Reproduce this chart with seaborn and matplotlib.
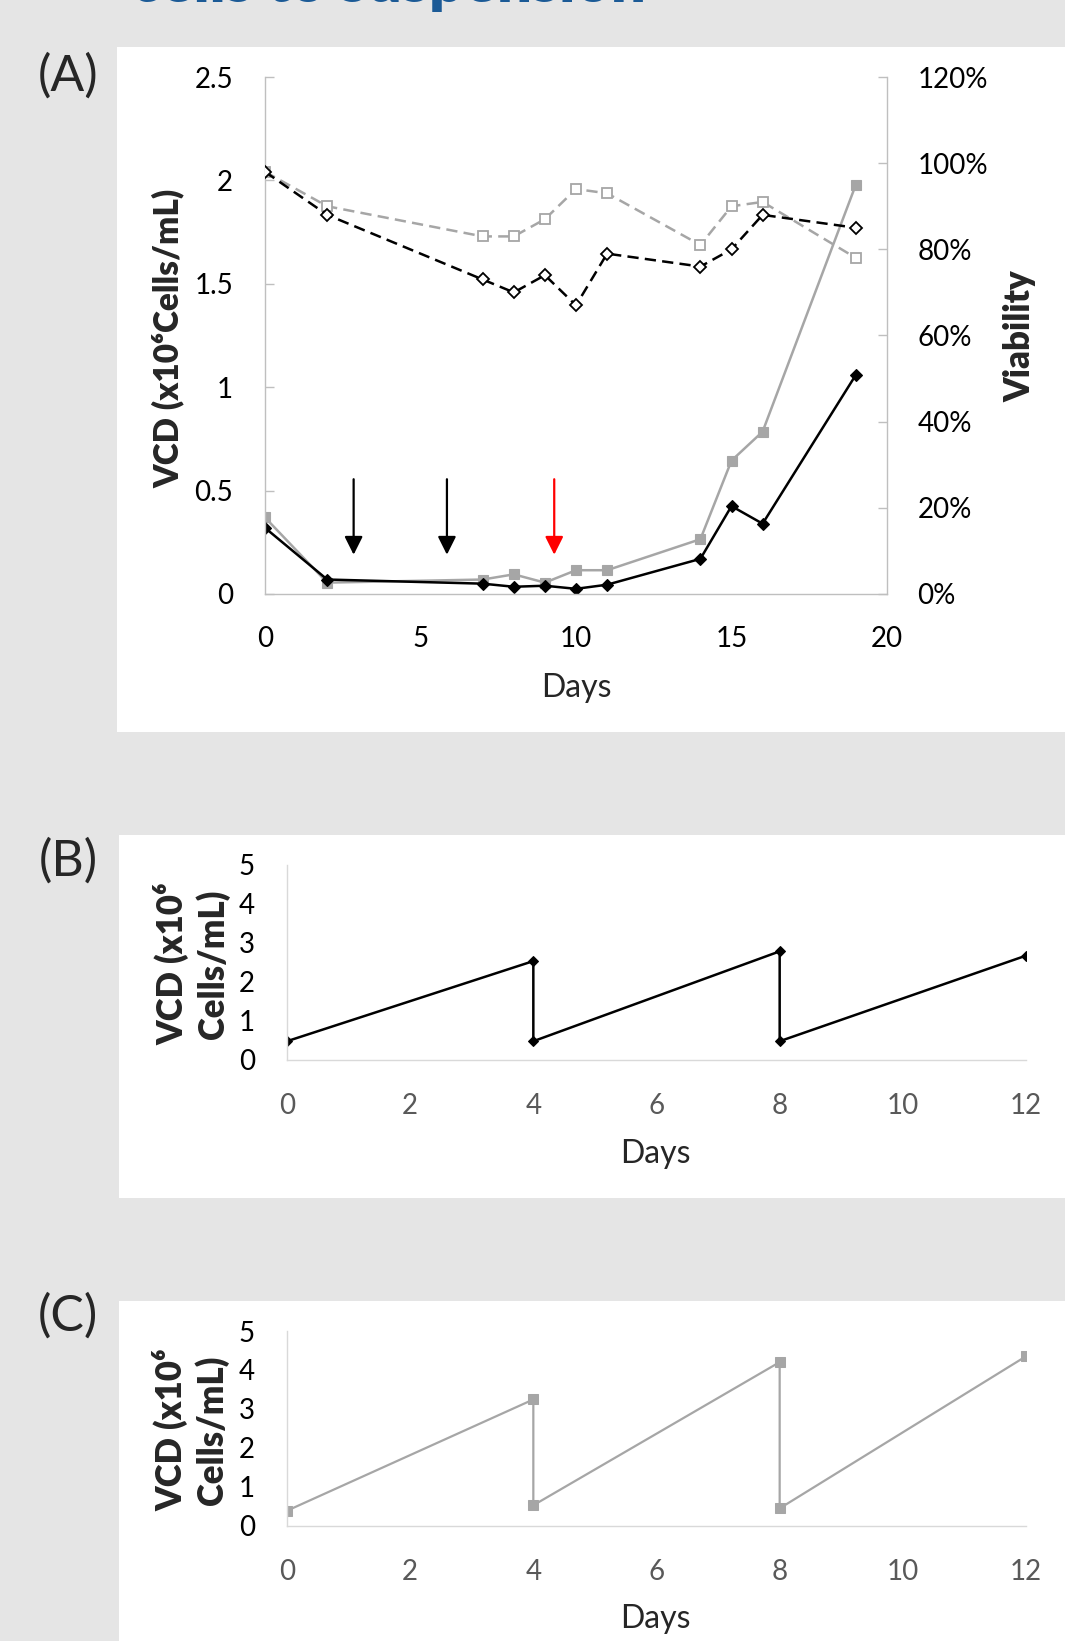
import matplotlib
matplotlib.use("Agg")
import matplotlib.pyplot as plt
import seaborn as sns
from matplotlib.patches import Rectangle
from matplotlib.ticker import FixedLocator

# ---------------- data ----------------
days_a = [0, 2, 7, 8, 9, 10, 11, 14, 15, 16, 19]
vcd_gray_a = [0.37, 0.055, 0.07, 0.095, 0.055, 0.115, 0.115, 0.265, 0.645, 0.785, 1.98]
vcd_black_a = [0.32, 0.07, 0.05, 0.035, 0.04, 0.025, 0.045, 0.17, 0.425, 0.34, 1.06]
via_gray_a = [0.98, 0.90, 0.83, 0.83, 0.87, 0.94, 0.93, 0.81, 0.90, 0.91, 0.78]
via_black_a = [0.98, 0.88, 0.73, 0.70, 0.74, 0.67, 0.79, 0.76, 0.80, 0.88, 0.85]
arrow_days = [2.85, 5.85, 9.3]
arrow_colors = ["black", "black", "red"]
arrow_top, arrow_tip = 0.555, 0.19

days_b = [0, 4, 4, 8, 8, 12]
vcd_b = [0.47, 2.53, 0.47, 2.78, 0.47, 2.67]

days_c = [0, 4, 4, 8, 8, 12]
vcd_c = [0.38, 3.24, 0.52, 4.20, 0.44, 4.35]

xticks_a = [0, 5, 10, 15, 20]
yticks_a = [0, 0.5, 1, 1.5, 2, 2.5]
yticklabels_a = ["0", "0.5", "1", "1.5", "2", "2.5"]
vticks_a = [0, 0.2, 0.4, 0.6, 0.8, 1.0, 1.2]
vticklabels_a = ["0%", "20%", "40%", "60%", "80%", "100%", "120%"]
xticks_bc = [0, 2, 4, 6, 8, 10, 12]
yticks_bc = [0, 1, 2, 3, 4, 5]

# ---------------- style ----------------
sns.set_style("white")
plt.rcParams["font.family"] = ["Lato", "DejaVu Sans"]

GRAY = "#a6a6a6"
SPINE_A = "#bfbfbf"
SPINE_BC = "#d9d9d9"
BG = "#e5e5e5"

W, H = 1065, 1641
fig = plt.figure(figsize=(W / 100, H / 100), dpi=100, facecolor=BG)


def fy(y):
    return 1 - y / H


def axes_px(l, t, r, b):
    return fig.add_axes([l / W, 1 - b / H, (r - l) / W, (b - t) / H])


# white panels
for (l, t, r, b) in [(117, 47, 1065, 732), (119, 835, 1065, 1198), (119, 1301, 1065, 1641)]:
    fig.add_artist(Rectangle((l / W, 1 - b / H), (r - l) / W, (b - t) / H,
                             transform=fig.transFigure, facecolor="white",
                             edgecolor="none", zorder=-5))

# title (cropped at top, as in the source image)
fig.text(131 / W, fy(2.0), "cells to suspension", ha="left", va="baseline",
         fontsize=44, fontweight="heavy", color="#1b5a96")

# ---------------- panel A ----------------
axA = axes_px(265, 77, 887, 594)
sns.lineplot(x=days_a, y=vcd_gray_a, ax=axA, color=GRAY, linewidth=1.8,
             marker="s", markersize=6.5, markerfacecolor=GRAY,
             markeredgecolor=GRAY, markeredgewidth=0.8,
             estimator=None, sort=False)
sns.lineplot(x=days_a, y=vcd_black_a, ax=axA, color="black", linewidth=1.8,
             marker="D", markersize=6.5, markerfacecolor="black",
             markeredgecolor="black", markeredgewidth=0.8,
             estimator=None, sort=False)
axA.set_xlim(0, 20)
axA.set_ylim(0, 2.5)
axA.xaxis.set_major_locator(FixedLocator(xticks_a))
axA.set_yticks(yticks_a)
axA.set_yticklabels(yticklabels_a)
axA.set_xlabel("")
axA.set_ylabel("")
for s in ["top", "right"]:
    axA.spines[s].set_visible(False)
for s in ["left", "bottom"]:
    axA.spines[s].set_color(SPINE_A)
    axA.spines[s].set_linewidth(1.0)
axA.tick_params(axis="x", direction="in", length=6.5, width=1, color=SPINE_A,
                labelsize=20, labelcolor="black", pad=23)
axA.tick_params(axis="y", direction="in", length=6.5, width=1, color=SPINE_A,
                labelsize=20, labelcolor="black", pad=23)

for d, c in zip(arrow_days, arrow_colors):
    axA.annotate("", xy=(d, arrow_tip), xytext=(d, arrow_top),
                 arrowprops=dict(arrowstyle="-|>,head_length=1.0,head_width=0.5",
                                 mutation_scale=11, color=c, lw=1.6,
                                 shrinkA=0, shrinkB=0))

axA2 = axA.twinx()
sns.lineplot(x=days_a, y=via_gray_a, ax=axA2, color=GRAY, linewidth=1.8,
             linestyle=(0, (4.5, 2.5)), marker="s", markersize=7,
             markerfacecolor="white", markeredgecolor=GRAY, markeredgewidth=1.3,
             estimator=None, sort=False)
sns.lineplot(x=days_a, y=via_black_a, ax=axA2, color="black", linewidth=1.8,
             linestyle=(0, (4.5, 2.5)), marker="D", markersize=6.5,
             markerfacecolor="white", markeredgecolor="black", markeredgewidth=1.3,
             estimator=None, sort=False)
axA2.set_ylim(0, 1.2)
axA2.set_yticks(vticks_a)
axA2.set_yticklabels(vticklabels_a)
axA2.set_ylabel("")
for s in ["top", "left", "bottom"]:
    axA2.spines[s].set_visible(False)
axA2.spines["right"].set_color(SPINE_A)
axA2.spines["right"].set_linewidth(1.0)
axA2.tick_params(axis="y", direction="in", length=6.5, width=1, color=SPINE_A,
                 labelsize=20, labelcolor="black", pad=22)

fig.text(168 / W, fy(338), "VCD (x10⁶Cells/mL)", rotation=90, ha="center",
         va="center", fontsize=24, fontweight="heavy")
fig.text(1020 / W, fy(336), "Viability", rotation=90, ha="center", va="center",
         fontsize=25, fontweight="heavy")
fig.text(576 / W, fy(697), "Days", ha="center", va="baseline", fontsize=23)
fig.text(68 / W, fy(76), "(A)", ha="center", va="center", fontsize=36)


# ---------------- panels B and C ----------------
def style_bc(ax):
    ax.set_xlim(0, 12)
    ax.set_ylim(0, 5)
    ax.set_xticks(xticks_bc)
    ax.set_yticks(yticks_bc)
    ax.set_xlabel("")
    ax.set_ylabel("")
    for s in ["top", "right"]:
        ax.spines[s].set_visible(False)
    for s in ["left", "bottom"]:
        ax.spines[s].set_color(SPINE_BC)
        ax.spines[s].set_linewidth(1.0)
    ax.tick_params(axis="x", length=0, labelsize=20, labelcolor="#595959", pad=24)
    ax.tick_params(axis="y", length=0, labelsize=20, labelcolor="black", pad=23)


axB = axes_px(287, 865, 1026, 1059.5)
sns.lineplot(x=days_b, y=vcd_b, ax=axB, color="black", linewidth=1.8,
             marker="D", markersize=5, markerfacecolor="black",
             markeredgecolor="black", estimator=None, sort=False)
style_bc(axB)
fig.text(191.5 / W, fy(964), "VCD (x10⁶\nCells/mL)", rotation=90, ha="center",
         va="center", fontsize=25, fontweight="heavy", linespacing=1.2,
         multialignment="center")
fig.text(655 / W, fy(1163), "Days", ha="center", va="baseline", fontsize=23)
fig.text(68 / W, fy(861), "(B)", ha="center", va="center", fontsize=36)

axC = axes_px(287, 1331, 1026, 1525.5)
sns.lineplot(x=days_c, y=vcd_c, ax=axC, color=GRAY, linewidth=1.6,
             marker="s", markersize=6.5, markerfacecolor=GRAY,
             markeredgecolor=GRAY, estimator=None, sort=False)
style_bc(axC)
fig.text(191 / W, fy(1430), "VCD (x10⁶\nCells/mL)", rotation=90, ha="center",
         va="center", fontsize=25, fontweight="heavy", linespacing=1.2,
         multialignment="center")
fig.text(655 / W, fy(1628), "Days", ha="center", va="baseline", fontsize=23)
fig.text(68 / W, fy(1316), "(C)", ha="center", va="center", fontsize=36)

fig.savefig("out.png", dpi=100, facecolor=BG)
